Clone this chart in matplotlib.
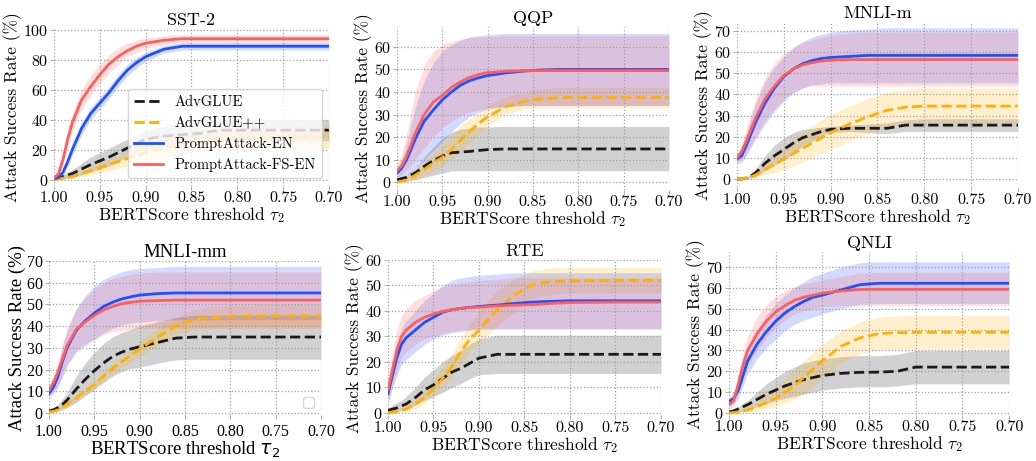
import matplotlib
matplotlib.use("Agg")
import matplotlib.pyplot as plt

plt.rcParams['font.family'] = 'serif'
plt.rcParams['font.serif'] = ['cmr10']
plt.rcParams['mathtext.fontset'] = 'cm'
plt.rcParams['axes.formatter.use_mathtext'] = True

# BERTScore thresholds (x axis, reversed)
thr = [1.00, 0.995, 0.99, 0.985, 0.98, 0.97, 0.96, 0.95, 0.94, 0.93,
       0.92, 0.91, 0.90, 0.88, 0.86, 0.84, 0.82, 0.80, 0.75, 0.70]

# SST-2
sst2_adv = [0.5, 1, 2, 3, 4, 7, 10, 12.5, 15, 18, 21, 24, 27, 29, 30, 31, 33, 33, 33, 33]
sst2_adv_hi = [1, 2, 3.5, 5, 6.5, 11, 15, 18, 21, 24, 27, 30, 33, 36, 37, 38, 40, 40, 40, 40]
sst2_adv_lo = [0, 0, 0.5, 1, 1.5, 3, 5, 7, 9, 12, 15, 18, 21, 22, 23, 24, 26, 26, 26, 26]
sst2_advpp = [0, 0.3, 1, 1.5, 2, 4, 6, 8, 10, 12, 14, 16, 18, 21, 24, 26, 27.5, 28, 28.5, 28.5]
sst2_advpp_hi = [0.5, 1, 2, 2.5, 3.5, 6, 9, 11.5, 14, 16.5, 19, 21.5, 24, 28, 31.5, 34, 35.5, 36, 36.5, 36.5]
sst2_advpp_lo = [0, 0, 0, 0.5, 0.5, 2, 3, 4.5, 6, 7.5, 9, 10.5, 12, 14, 16.5, 18, 19.5, 20, 20.5, 20.5]
sst2_en = [0.5, 1.5, 5, 12, 20, 34, 44, 51, 58, 66, 73, 78, 82, 87, 89, 89, 89, 89, 89, 89]
sst2_en_hi = [1, 2.5, 7, 15, 24, 38, 48, 55, 62, 70, 77, 81.5, 85, 89.5, 91.5, 91.5, 91.5, 91.5, 91.5, 91.5]
sst2_en_lo = [0, 0.5, 3, 9, 16, 30, 40, 47, 54, 62, 69, 74.5, 79, 84.5, 86.5, 86.5, 86.5, 86.5, 86.5, 86.5]
sst2_fs = [1, 4, 14, 27, 38, 53, 62, 70, 77, 82, 86, 89, 91, 93, 94, 94, 94, 94, 94, 94]
sst2_fs_hi = [2, 6, 18, 32, 44, 60, 70, 77, 83, 88, 91, 93, 94.5, 96, 96.5, 96.5, 96.5, 96.5, 96.5, 96.5]
sst2_fs_lo = [0, 2, 10, 22, 32, 47, 56, 64, 71, 77, 82, 85, 87.5, 90, 91.5, 91.5, 91.5, 91.5, 91.5, 91.5]

# QQP
qqp_adv = [1, 1.5, 2, 3, 4, 7, 9.5, 11.5, 13, 13.3, 13.6, 14, 14.4, 14.7, 14.7, 14.7, 14.7, 14.7, 14.7, 14.7]
qqp_adv_hi = [1.5, 2, 3, 4.5, 6, 11, 15.5, 19.5, 22, 23.5, 24, 24.5, 24.5, 24.7, 24.7, 24.7, 24.7, 24.7, 24.7, 24.7]
qqp_adv_lo = [0.5, 0.5, 0.5, 0.8, 1, 2, 3, 4, 5, 5, 5, 5, 5, 5, 5, 5, 5, 5, 5, 5]
qqp_advpp = [0, 0.3, 0.8, 1.8, 3, 5.5, 8.5, 11, 14.5, 18.5, 22.5, 26, 29, 33.5, 35.8, 37, 37.5, 37.5, 37.5, 37.5]
qqp_advpp_hi = [0.5, 1, 2, 3.5, 5, 8.5, 12.5, 16, 21, 25, 28, 31, 34, 38, 40, 41.5, 42, 42, 42, 42]
qqp_advpp_lo = [0, 0, 0, 0.5, 1, 3, 5, 7, 10, 13.5, 17.5, 21.5, 25, 30, 32.5, 33, 33, 33, 33, 33]
qqp_en = [4, 6, 9.5, 14, 19, 27, 32, 36.5, 40, 43, 45, 46.3, 47.3, 48.5, 49.3, 49.8, 50, 50, 50, 50]
qqp_en_hi = [7, 10, 16, 25, 33, 45, 53, 58, 61, 63, 64.5, 65, 65.5, 66, 66, 66, 66, 66, 66, 66]
qqp_en_lo = [1, 2, 3, 4, 6, 10, 14, 18, 22, 26, 29, 31, 32.5, 33.5, 34, 34, 34, 34, 34, 34]
qqp_fs = [5, 7, 11, 16, 21.5, 30, 35.5, 38.5, 42, 44.5, 46.5, 47.8, 48.6, 49.2, 49.5, 49.5, 49.5, 49.5, 49.5, 49.5]
qqp_fs_hi = [8, 12, 20, 30, 40, 52, 58, 61, 62.5, 63.5, 64, 64.5, 64.5, 65, 65, 65, 65, 65, 65, 65]
qqp_fs_lo = [2, 3, 5, 7, 10, 15, 20, 24, 27, 29.5, 31, 32, 33, 33.5, 34, 34, 34, 34, 34, 34]

# MNLI-m
mnlim_adv = [0, 0, 0.5, 1.5, 3, 7.5, 11, 14, 17, 19.5, 21, 22.5, 23.5, 24, 24, 24, 25.5, 25.5, 25.5, 25.5]
mnlim_adv_hi = [0.5, 0.5, 1, 2.5, 5, 11, 16, 19.5, 22, 23.5, 24, 24.5, 25, 25.5, 26, 26.5, 28, 28.5, 28.5, 28.5]
mnlim_adv_lo = [0, 0, 0, 0.5, 1, 4, 6.5, 9, 12, 15.5, 18, 20.5, 22, 22.5, 22, 21.5, 22.5, 22.5, 22.5, 22.5]
mnlim_advpp = [0, 0, 0.5, 1, 2, 4.5, 7, 9.5, 12, 14.5, 17, 19.5, 22, 26, 29.5, 32.5, 34, 34.5, 34.5, 34.5]
mnlim_advpp_hi = [0, 0.5, 1, 2, 3.5, 7.5, 11.5, 15, 18.5, 22, 25, 28, 30.5, 34.5, 38, 41, 42.5, 43, 43, 43]
mnlim_advpp_lo = [0, 0, 0, 0.5, 1, 2, 3, 4.5, 6, 8, 10, 12, 14, 18, 21.5, 24.5, 26, 26.5, 26.5, 26.5]
mnlim_en = [9.5, 11, 16, 21.5, 27, 36, 43, 48.5, 52, 54.5, 56, 57, 57.5, 58, 58.5, 58.5, 58.5, 58.5, 58.5, 58.5]
mnlim_en_hi = [12, 15, 22, 29, 36, 46, 53, 58, 62, 65, 67, 68.5, 69.5, 70.5, 71, 71.5, 71.5, 71.5, 71.5, 71.5]
mnlim_en_lo = [7, 8, 11, 15, 19, 26, 32, 37, 40.5, 43, 44.5, 45, 45.5, 45.5, 45.5, 45.5, 45.5, 45.5, 45.5, 45.5]
mnlim_fs = [10, 13, 18, 23.5, 29, 38, 44, 49, 52, 54, 55, 55.8, 56.2, 56.5, 56.5, 56.5, 56.5, 56.5, 56.5, 56.5]
mnlim_fs_hi = [12, 16, 24, 31, 38, 48, 55, 59.5, 62.5, 64.5, 66, 67, 68, 69, 69.5, 69.5, 69.5, 69.5, 69.5, 69.5]
mnlim_fs_lo = [8, 9, 12, 16, 20, 28, 33, 38, 41, 43, 44, 44, 44, 44, 44, 44, 44, 44, 44, 44]

# MNLI-mm
mnlimm_adv = [1, 1.5, 2.5, 4, 6, 11, 15.5, 19.5, 23, 26, 28, 29.5, 30.5, 32.5, 34.5, 35, 35, 35, 35, 35]
mnlimm_adv_hi = [1.5, 2.5, 4, 6.5, 9.5, 17, 23, 28, 32, 35, 37, 38.5, 40, 42, 44, 45, 45, 45, 45, 45]
mnlimm_adv_lo = [0.5, 0.5, 1, 1.5, 2.5, 5, 8, 11, 14, 17, 19, 20.5, 21, 23, 24.5, 24.8, 24.8, 24.8, 24.8, 24.8]
mnlimm_advpp = [0.5, 0.8, 1.5, 2.5, 4, 7, 10, 13, 17, 20.5, 23.5, 26.5, 29.5, 35, 40, 43, 44, 44.5, 44.7, 44.7]
mnlimm_advpp_hi = [1, 1.5, 2.5, 3.5, 5, 8.5, 12, 15, 19, 23, 26, 29.5, 33, 39, 44, 47.5, 49, 49.5, 50, 50]
mnlimm_advpp_lo = [0, 0.3, 0.5, 1.5, 3, 5.5, 8, 11, 15, 18, 21, 23.5, 26, 31, 36, 38.5, 39.5, 40, 40, 40]
mnlimm_en = [9, 12, 17, 24, 30, 38, 42.5, 46, 49, 51, 52.5, 53.5, 54.3, 55, 55.3, 55.3, 55.3, 55.3, 55.3, 55.3]
mnlimm_en_hi = [11, 15, 22, 31, 38, 48, 54, 58.5, 61.5, 63.5, 65, 66, 66.5, 67, 67.5, 67.5, 67.5, 67.5, 67.5, 67.5]
mnlimm_en_lo = [7, 9, 12, 17, 22, 28, 31, 34, 37, 39, 40.5, 41.5, 42, 42.5, 43, 43, 43, 43, 43, 43]
mnlimm_fs = [10.5, 14, 19, 25, 31, 38.5, 42, 45, 47.5, 49, 50.3, 51, 51.5, 51.8, 52, 52, 52, 52, 52, 52]
mnlimm_fs_hi = [13, 17, 24, 32, 39, 48, 53, 57, 60, 62, 63, 64, 64.5, 65, 65, 65, 65, 65, 65, 65]
mnlimm_fs_lo = [8, 10, 13, 17, 22, 29, 32, 34, 36, 37.5, 38, 38.5, 39, 39, 39, 39, 39, 39, 39, 39]

# RTE
rte_adv = [1, 1.5, 2, 2.8, 3.5, 6, 9, 11, 13.5, 16, 17.5, 19.5, 21.5, 23, 23, 23, 23, 23, 23, 23]
rte_adv_hi = [2, 3, 4, 5, 6.5, 10, 14, 17, 20, 22.5, 24.5, 27, 29, 30.5, 30.5, 30.5, 30.5, 30.5, 30.5, 30.5]
rte_adv_lo = [0, 0.3, 0.5, 1, 1.5, 3, 5, 6.5, 8, 10, 11.5, 13.5, 15, 15.5, 15.5, 15.5, 15.5, 15.5, 15.5, 15.5]
rte_advpp = [0, 0.2, 0.5, 1, 1.5, 3.5, 6, 9.5, 13.5, 18, 24, 29, 32.5, 40.5, 46.5, 50.5, 51.5, 51.8, 52, 52]
rte_advpp_hi = [0.5, 1, 1.5, 2, 3, 5.5, 9, 13, 18, 23, 29.5, 35, 40, 48, 53, 56, 57, 57, 57, 57]
rte_advpp_lo = [0, 0, 0, 0.3, 0.5, 1.5, 3.5, 6.5, 10, 14, 19, 24, 27.5, 34, 40, 45, 46.5, 47, 47, 47]
rte_en = [7.5, 15, 22, 27, 29.5, 32.5, 35.5, 37.5, 39.5, 40.5, 41, 41.4, 41.8, 42.3, 43, 43.5, 43.8, 44, 44, 44]
rte_en_hi = [11, 20, 28, 33, 36, 40, 44, 47, 50, 52, 53, 53.5, 54, 54.5, 55, 55, 55, 55, 55, 55]
rte_en_lo = [4, 10, 15, 19, 21, 24, 27, 29, 30.5, 31.5, 32, 32.5, 33, 33, 33, 33, 33, 33, 33, 33]
rte_fs = [9, 17, 25, 30, 32.5, 35.5, 37.5, 38.8, 39.8, 40.5, 41, 41.3, 41.5, 42, 42.3, 42.5, 43, 43.3, 43.5, 43.5]
rte_fs_hi = [14, 24, 33, 38, 41, 44, 46, 48, 49.5, 50.5, 51, 51.5, 52, 52.5, 53, 53, 53, 53, 53, 53]
rte_fs_lo = [4, 10, 17, 22, 24, 27, 29, 30, 31, 32, 32.5, 33, 33, 33, 33, 33, 33, 33, 33, 33]

# QNLI
qnli_adv = [0.5, 1, 2, 3, 4, 6.5, 9, 11, 13, 14.5, 16, 17, 18, 19, 19.5, 19.6, 20, 22, 22, 22]
qnli_adv_hi = [1, 2, 3, 4.5, 6, 10, 14, 17, 20, 22, 24, 25, 26, 27, 27.5, 27.5, 28, 30, 30, 30]
qnli_adv_lo = [0, 0, 0.5, 1, 2, 3, 4.5, 6, 7, 8, 9, 10, 11, 12, 12.5, 12.5, 13, 14, 14, 14]
qnli_advpp = [0, 0.2, 0.5, 1, 1.5, 3, 5, 7, 10, 13, 17, 21, 25, 32, 36, 38, 38.5, 38.7, 38.7, 38.7]
qnli_advpp_hi = [0.5, 0.8, 1.5, 2, 3, 6, 9, 12.5, 16.5, 20.5, 25, 29, 33, 39.5, 43.5, 46, 46.5, 46.7, 46.7, 46.7]
qnli_advpp_lo = [0, 0, 0, 0.3, 0.5, 1, 2, 3, 4.5, 6.5, 9.5, 13, 17, 24, 28.5, 30, 30.5, 30.7, 30.7, 30.7]
qnli_en = [5.5, 7, 11, 18, 25, 33, 39, 44, 48, 51, 53.5, 55.5, 56.5, 59, 61.5, 62.2, 62.2, 62.2, 62.2, 62.2]
qnli_en_hi = [7.5, 10, 15, 23, 31, 40, 47, 52.5, 56.5, 60, 63, 65.5, 67, 70, 72, 72.5, 72.5, 72.5, 72.5, 72.5]
qnli_en_lo = [3.5, 4.5, 7, 13, 19, 26, 31, 35.5, 39.5, 42.5, 44.5, 46, 47.5, 50, 52, 52.5, 52.5, 52.5, 52.5, 52.5]
qnli_fs = [4, 6, 14, 23, 30, 38, 44, 48.5, 51.5, 54, 55.5, 56.5, 57.5, 58.5, 59.2, 59.3, 59.3, 59.3, 59.3, 59.3]
qnli_fs_hi = [6, 9, 19, 29, 37, 46, 52, 56, 58.5, 60.5, 62, 63, 64, 65.5, 67, 67.5, 67.5, 67.5, 67.5, 67.5]
qnli_fs_lo = [2, 3.5, 9, 17, 23, 30, 36, 41, 44.5, 47.5, 49, 50, 51, 51.5, 51.5, 51.5, 51.5, 51.5, 51.5, 51.5]

labels = ['AdvGLUE', 'AdvGLUE++', 'PromptAttack-EN', 'PromptAttack-FS-EN']
colors = ['#1a1a1a', '#FFB000', '#1F4FFF', '#FF5E5B']
styles = ['--', '--', '-', '-']

panels = [
    ('SST-2', [0.0521, 0.5974, 0.2654, 0.3397], (-4, 100.5), range(0, 101, 20),
     [(sst2_adv, sst2_adv_lo, sst2_adv_hi), (sst2_advpp, sst2_advpp_lo, sst2_advpp_hi),
      (sst2_en, sst2_en_lo, sst2_en_hi), (sst2_fs, sst2_fs_lo, sst2_fs_hi)]),
    ('QQP', [0.3832, 0.5881, 0.2625, 0.3539], (-3.5, 69), range(0, 61, 10),
     [(qqp_adv, qqp_adv_lo, qqp_adv_hi), (qqp_advpp, qqp_advpp_lo, qqp_advpp_hi),
      (qqp_en, qqp_en_lo, qqp_en_hi), (qqp_fs, qqp_fs_lo, qqp_fs_hi)]),
    ('MNLI-m', [0.7114, 0.5933, 0.2712, 0.3577], (-4, 74), range(0, 71, 10),
     [(mnlim_adv, mnlim_adv_lo, mnlim_adv_hi), (mnlim_advpp, mnlim_advpp_lo, mnlim_advpp_hi),
      (mnlim_en, mnlim_en_lo, mnlim_en_hi), (mnlim_fs, mnlim_fs_lo, mnlim_fs_hi)]),
    ('MNLI-mm', [0.0473, 0.0993, 0.2625, 0.3345], (-1, 70), range(0, 71, 10),
     [(mnlimm_adv, mnlimm_adv_lo, mnlimm_adv_hi), (mnlimm_advpp, mnlimm_advpp_lo, mnlimm_advpp_hi),
      (mnlimm_en, mnlimm_en_lo, mnlimm_en_hi), (mnlimm_fs, mnlimm_fs_lo, mnlimm_fs_hi)]),
    ('RTE', [0.3745, 0.0987, 0.2635, 0.3373], (-1, 60), range(0, 61, 10),
     [(rte_adv, rte_adv_lo, rte_adv_hi), (rte_advpp, rte_advpp_lo, rte_advpp_hi),
      (rte_en, rte_en_lo, rte_en_hi), (rte_fs, rte_fs_lo, rte_fs_hi)]),
    ('QNLI', [0.7037, 0.0996, 0.2703, 0.3529], (-1, 77), range(0, 71, 10),
     [(qnli_adv, qnli_adv_lo, qnli_adv_hi), (qnli_advpp, qnli_advpp_lo, qnli_advpp_hi),
      (qnli_en, qnli_en_lo, qnli_en_hi), (qnli_fs, qnli_fs_lo, qnli_fs_hi)]),
]

fig = plt.figure(figsize=(10.36, 4.61), dpi=100)

for name, pos, ylim, yticks, series in panels:
    ax = fig.add_axes(pos)
    for (mean, lo, hi), lab, c, ls in zip(series, labels, colors, styles):
        ax.fill_between(thr, lo, hi, color=c, alpha=0.2, linewidth=0)
        ax.plot(thr, mean, ls, color=c, lw=2, label=lab)

    ax.set_xlim(1.0, 0.7)
    ax.set_ylim(*ylim)
    ax.set_xticks([1.00, 0.95, 0.90, 0.85, 0.80, 0.75, 0.70])
    ax.set_xticklabels(['1.00', '0.95', '0.90', '0.85', '0.80', '0.75', '0.70'])
    ax.set_yticks(list(yticks))
    ax.grid(True, linestyle=':', color='#a0a0a0', lw=0.9)
    for sp in ax.spines.values():
        sp.set_visible(False)
    ax.tick_params(length=3, width=0.6, color='#a0a0a0', labelsize=11.5, pad=1)

    if name == 'MNLI-mm':
        fam = ['Liberation Serif', 'DejaVu Serif']
        ax.tick_params(axis='x', pad=3)
        for t in ax.get_xticklabels() + ax.get_yticklabels():
            t.set_fontfamily(fam)
            t.set_fontsize(11.5)
        ax.set_title(name, fontsize=13.5, family=fam, pad=3)
        ax.set_xlabel(r'BERTScore threshold $\tau_2$', fontsize=13.5, family=fam,
                      math_fontfamily='dejavusans', labelpad=0)
        ax.set_ylabel('Attack Success Rate (%)', fontsize=13.5, family=fam, labelpad=0)
        ax.legend(handles=[], loc='lower right')
    else:
        ax.set_title(name, fontsize=13, pad=3)
        ax.set_xlabel(r'BERTScore threshold $\tau_2$', fontsize=12.5, labelpad=0)
        ax.set_ylabel('Attack Success Rate (%)', fontsize=12.5, labelpad=1)

    if name == 'SST-2':
        ax.legend(loc='lower right', fontsize=10.5, framealpha=0.8)

fig.savefig('out.png', dpi=100)
